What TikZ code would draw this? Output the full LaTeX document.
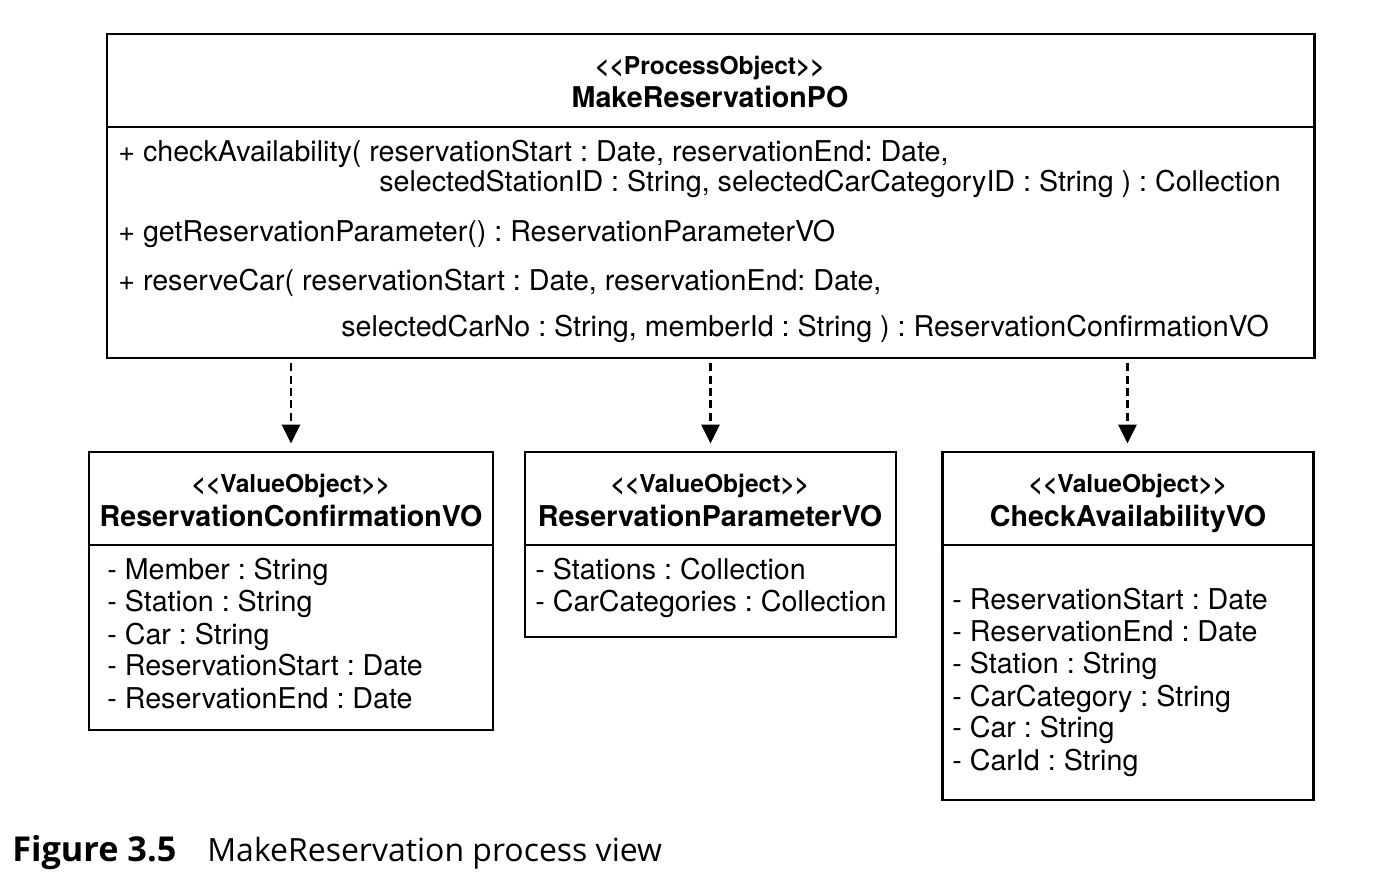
\documentclass[tikz,border=0pt]{standalone}
\usepackage{fontspec}
\setmainfont{TeX Gyre Heros}
\newfontfamily\capfont{Open Sans}
\usetikzlibrary{arrows.meta,positioning,fit}
\newcommand{\stereo}[1]{<\kern0pt<#1>\kern0pt>}
\frenchspacing

\begin{document}
\begin{tikzpicture}[x=0.02cm,y=-0.02cm,
  umlbox/.style={draw,line width=1.7pt,inner sep=0pt},
  divider/.style={line width=1.5pt},
  dep/.style={line width=1.6pt,dash pattern=on 4.5pt off 2.5pt,
    -{Triangle[length=0.38cm,width=0.36cm]},shorten <=0.08cm,shorten >=0.14cm},
  stype/.style={anchor=base,font=\bfseries\fontsize{14}{16}\selectfont},
  cname/.style={anchor=base,font=\bfseries\fontsize{16.3}{18}\selectfont},
  attr/.style={anchor=base west,inner sep=0pt,font=\fontsize{16.3}{18}\selectfont},
  every node/.style={text=black}]
  \useasboundingbox (0,0) rectangle (1384,878);
  % process object
  \node[umlbox,fit={(107,34)(1314,358)}] (po) {};
  \draw[divider] (po.west |- 0,127) -- (po.east |- 0,127);
  \node[stype] (postype) at (710,75) {\stereo{ProcessObject}};
  \node[cname] (poname) at (710,108) {MakeReservationPO};
  \node[attr] (op1) at (118,162) {+ checkAvailability( reservationStart : Date, reservationEnd: Date,};
  \node[attr] (op1b) at (379,192) {selectedStationID : String, selectedCarCategoryID : String ) : Collection};
  \node[attr] (op2) at (118,242) {+ getReservationParameter() : ReservationParameterVO};
  \node[attr] (op3) at (118,291) {+ reserveCar( reservationStart : Date, reservationEnd: Date,};
  \node[attr] (op3b) at (341,337) {selectedCarNo : String, memberId : String ) : ReservationConfirmationVO};
  % value objects
  \node[umlbox,fit={(89,452)(493,730)}] (rcvo) {};
  \draw[divider] (rcvo.west |- 0,545) -- (rcvo.east |- 0,545);
  \node[stype] (rctype) at (291,493) {\stereo{ValueObject}};
  \node[cname] (rcname) at (291,527) {ReservationConfirmationVO};
  \foreach \t [count=\i] in {- Member : String,- Station : String,- Car : String,
    - ReservationStart : Date,- ReservationEnd : Date}
    \node[attr] (rc\i) at (107,548+32*\i) {\t};

  \node[umlbox,fit={(525,452)(896,637)}] (rpvo) {};
  \draw[divider] (rpvo.west |- 0,545) -- (rpvo.east |- 0,545);
  \node[stype] (rptype) at (710,493) {\stereo{ValueObject}};
  \node[cname] (rpname) at (710,527) {ReservationParameterVO};
  \foreach \t [count=\i] in {- Stations : Collection,- CarCategories : Collection}
    \node[attr] (rp\i) at (535,548+32*\i) {\t};

  \node[umlbox,fit={(942,452)(1313,800)}] (cavo) {};
  \draw[divider] (cavo.west |- 0,545) -- (cavo.east |- 0,545);
  \node[stype] (catype) at (1128,493) {\stereo{ValueObject}};
  \node[cname] (caname) at (1128,527) {CheckAvailabilityVO};
  \foreach \t [count=\i] in {- ReservationStart : Date,- ReservationEnd : Date,
    - Station : String,- CarCategory : String,- Car : String,- CarId : String}
    \node[attr] (ca\i) at (952,578+32*\i) {\t};
  % dependencies
  \draw[dep] (po.south -| rcvo.north) -- (rcvo.north);
  \draw[dep] (po.south -| rpvo.north) -- (rpvo.north);
  \draw[dep] (po.south -| cavo.north) -- (cavo.north);
  % caption
  \node[attr,font=\capfont\bfseries\fontsize{19.5}{22}\selectfont] (fignum) at (12,861) {Figure 3.5};
  \node[attr,font=\capfont\fontsize{18.2}{22}\selectfont] (figtext) at (207,861) {MakeReservation process view};
\end{tikzpicture}
\end{document}
